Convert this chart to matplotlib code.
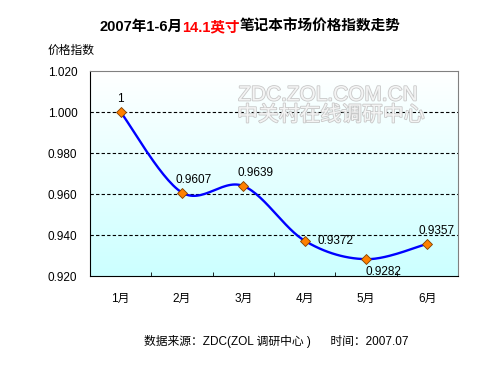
import numpy as np
import matplotlib
matplotlib.use('Agg')
import matplotlib.pyplot as plt
import matplotlib.patheffects as pe

plt.rcParams['font.family'] = ['Liberation Sans', 'Noto Sans CJK SC', 'DejaVu Sans']

# 数据
months = ['1月', '2月', '3月', '4月', '5月', '6月']
index_vals = [1.0, 0.9607, 0.9639, 0.9372, 0.9282, 0.9357]
val_labels = ['1', '0.9607', '0.9639', '0.9372', '0.9282', '0.9357']
yticks = [0.920, 0.940, 0.960, 0.980, 1.000, 1.020]


def smooth(x, y, n=30):
    # Excel 风格的平滑线（贝塞尔，控制点取相邻点差的 1/6）
    x = np.asarray(x, float)
    y = np.asarray(y, float)
    px = np.concatenate([[x[0]], x, [x[-1]]])
    py = np.concatenate([[y[0]], y, [y[-1]]])
    xs, ys = [], []
    t = np.linspace(0, 1, n)
    for i in range(len(x) - 1):
        p0 = np.array([px[i + 1], py[i + 1]])
        p3 = np.array([px[i + 2], py[i + 2]])
        p1 = p0 + (np.array([px[i + 2], py[i + 2]]) - np.array([px[i], py[i]])) / 6
        p2 = p3 - (np.array([px[i + 3], py[i + 3]]) - np.array([px[i + 1], py[i + 1]])) / 6
        b = ((1 - t) ** 3)[:, None] * p0 + (3 * (1 - t) ** 2 * t)[:, None] * p1 \
            + (3 * (1 - t) * t ** 2)[:, None] * p2 + (t ** 3)[:, None] * p3
        xs.extend(b[:, 0])
        ys.extend(b[:, 1])
    return np.array(xs), np.array(ys)


fig = plt.figure(figsize=(5, 3.75), dpi=100)
ax = fig.add_axes([90 / 500, 1 - 276 / 375, 368 / 500, 205 / 375])

xpos = np.arange(len(months))
ax.set_xlim(-0.5, 5.5)
ax.set_ylim(0.920, 1.020)

# 渐变背景
grad = np.linspace(0, 1, 256)[:, None]
cmap = matplotlib.colors.LinearSegmentedColormap.from_list('bg', ['#ccffff', '#ffffff'])
ax.imshow(grad, extent=[-0.5, 5.5, 0.920, 1.020], aspect='auto', cmap=cmap,
          origin='lower', zorder=0)

for yv in yticks[1:-1]:
    ax.axhline(yv, color='black', lw=0.8, ls=(0, (3, 2)), zorder=1)

# 水印（空心字）
wm = [pe.Stroke(linewidth=1.2, foreground='#c8c8c8'), pe.Normal()]
ax.text(418 / 368 - 90 / 368, 1 - (95 - 71) / 205, 'ZDC.ZOL.COM.CN', transform=ax.transAxes,
        ha='right', va='center', fontsize=15, color='#f4f4f4', zorder=1, path_effects=wm)
ax.text(425 / 368 - 90 / 368, 1 - (115 - 71) / 205, '中关村在线调研中心', transform=ax.transAxes,
        ha='right', va='center', fontsize=15, color='#f4f4f4', zorder=1, path_effects=wm)

sx, sy = smooth(xpos, index_vals)
ax.plot(sx, sy, color='#0000ff', lw=1.7, zorder=3)
ax.plot(xpos, index_vals, ls='none', marker='D', ms=5, mfc='#ff8000', mec='#804000',
        mew=0.6, zorder=4)

offsets = [(0, 5, 'center', 'bottom'), (8.5, 5, 'center', 'bottom'), (8.5, 5, 'center', 'bottom'),
           (9, 0, 'left', 'center'), (0, -5, 'left', 'top'), (7, 5, 'center', 'bottom')]
for x, v, lab, (dx, dy, ha, va) in zip(xpos, index_vals, val_labels, offsets):
    ax.annotate(lab, (x, v), xytext=(dx, dy), textcoords='offset points',
                ha=ha, va=va, fontsize=8.5, zorder=5)

ax.set_yticks(yticks)
ax.set_yticklabels(['%.3f' % v for v in yticks], fontsize=8.5)
ax.set_xticks(xpos)
ax.set_xticklabels(months, fontsize=8.5)
ax.tick_params(axis='x', length=0, pad=12)
ax.tick_params(axis='y', length=0, pad=9)
ax.set_xticks(np.arange(0.5, 5.5, 1), minor=True)
ax.tick_params(axis='x', which='minor', direction='in', length=3, color='black')

for s in ['top', 'right']:
    ax.spines[s].set_color('#808080')
for s in ['left', 'bottom']:
    ax.spines[s].set_color('black')

# 标题分三段上色
parts = [('2007年1-6月', 'black'), ('14.1英寸', '#ff0000'), ('笔记本市场价格指数走势', 'black')]
renderer = fig.canvas.get_renderer()
texts = []
for s, c in parts:
    tt = fig.text(0, 1 - 27 / 375, s, ha='left', va='center', fontsize=10.5,
                  fontweight='bold', color=c)
    texts.append(tt)
widths = [tt.get_window_extent(renderer).width for tt in texts]
start = (500 - sum(widths)) / 2
for tt, w in zip(texts, widths):
    tt.set_x(start / 500)
    start += w

fig.text(48 / 500, 1 - 51 / 375, '价格指数', ha='left', va='center', fontsize=8.5)
fig.text(276 / 500, 1 - 341 / 375, '数据来源：ZDC(ZOL 调研中心 )      时间：2007.07',
         ha='center', va='center', fontsize=8.5)

fig.savefig('out.png', dpi=100)
